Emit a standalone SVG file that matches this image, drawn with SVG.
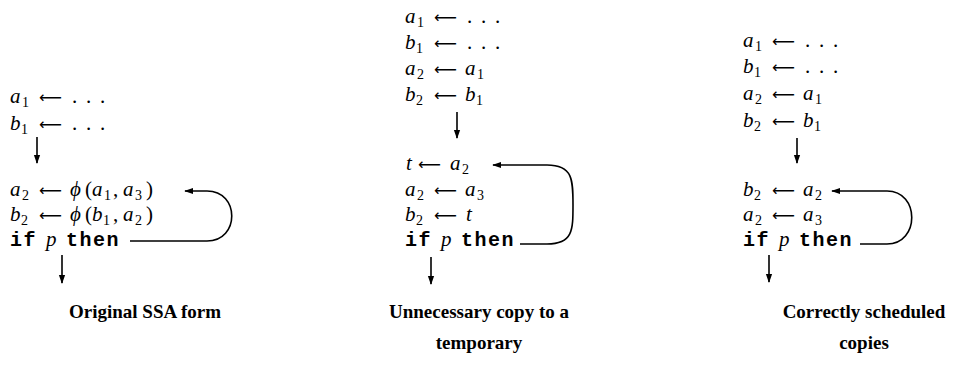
<svg xmlns="http://www.w3.org/2000/svg" width="962" height="378" viewBox="0 0 962 378">
<defs>
<marker id="ah" viewBox="0 0 10 10" refX="9" refY="5" markerWidth="9" markerHeight="9" markerUnits="userSpaceOnUse" orient="auto">
<path d="M0,1.5 L10,5 L0,8.5 Z" fill="#000"/>
</marker>
<style>
.m{font-family:"Liberation Serif",serif;font-size:21px;fill:#000}
.v{font-style:italic}
.s{font-size:14px;font-style:normal}
.ar{font-family:"DejaVu Sans",sans-serif;font-size:16px}
.tt{font-family:"Liberation Mono",monospace;font-weight:bold;font-size:20px;letter-spacing:1.5px}
.cap{font-family:"Liberation Serif",serif;font-weight:bold;font-size:19px;fill:#000}
.c{fill:none;stroke:#000;stroke-width:1.6}
</style>
</defs>
<rect width="962" height="378" fill="#fff"/>

<g id="panel1">
<text class="m" y="103"><tspan class="v" x="10">a</tspan><tspan class="s" x="22" dy="4">1</tspan><tspan class="ar" x="39" dy="-4">⟵</tspan><tspan x="72">.</tspan><tspan x="86">.</tspan><tspan x="100">.</tspan></text>
<text class="m" y="130"><tspan class="v" x="10">b</tspan><tspan class="s" x="21" dy="4">1</tspan><tspan class="ar" x="39" dy="-4">⟵</tspan><tspan x="72">.</tspan><tspan x="86">.</tspan><tspan x="100">.</tspan></text>
<text class="m" y="196"><tspan class="v" x="10">a</tspan><tspan class="s" x="22" dy="4">2</tspan><tspan class="ar" x="39" dy="-4">⟵</tspan><tspan class="v" x="70">ϕ</tspan><tspan x="85">(</tspan><tspan class="v" x="92">a</tspan><tspan class="s" x="104" dy="4">1</tspan><tspan dy="-4" x="113">,</tspan><tspan class="v" x="123">a</tspan><tspan class="s" x="135" dy="4">3</tspan><tspan dy="-4" x="146">)</tspan></text>
<text class="m" y="221"><tspan class="v" x="10">b</tspan><tspan class="s" x="21" dy="4">2</tspan><tspan class="ar" x="39" dy="-4">⟵</tspan><tspan class="v" x="70">ϕ</tspan><tspan x="85">(</tspan><tspan class="v" x="92">b</tspan><tspan class="s" x="103" dy="4">1</tspan><tspan dy="-4" x="113">,</tspan><tspan class="v" x="123">a</tspan><tspan class="s" x="135" dy="4">2</tspan><tspan dy="-4" x="146">)</tspan></text>
<text class="m" y="246"><tspan class="tt" x="10">if</tspan><tspan class="v" x="46">p</tspan><tspan class="tt" x="66">then</tspan></text>
</g>

<g id="panel2">
<text class="m" y="23"><tspan class="v" x="405">a</tspan><tspan class="s" x="417" dy="4">1</tspan><tspan class="ar" x="434" dy="-4">⟵</tspan><tspan x="467">.</tspan><tspan x="481">.</tspan><tspan x="495">.</tspan></text>
<text class="m" y="49"><tspan class="v" x="405">b</tspan><tspan class="s" x="416" dy="4">1</tspan><tspan class="ar" x="434" dy="-4">⟵</tspan><tspan x="467">.</tspan><tspan x="481">.</tspan><tspan x="495">.</tspan></text>
<text class="m" y="75"><tspan class="v" x="405">a</tspan><tspan class="s" x="417" dy="4">2</tspan><tspan class="ar" x="434" dy="-4">⟵</tspan><tspan class="v" x="465">a</tspan><tspan class="s" x="477" dy="4">1</tspan></text>
<text class="m" y="101"><tspan class="v" x="405">b</tspan><tspan class="s" x="416" dy="4">2</tspan><tspan class="ar" x="434" dy="-4">⟵</tspan><tspan class="v" x="465">b</tspan><tspan class="s" x="476" dy="4">1</tspan></text>
<text class="m" y="170"><tspan class="v" x="406">t</tspan><tspan class="ar" x="418">⟵</tspan><tspan class="v" x="450">a</tspan><tspan class="s" x="462" dy="4">2</tspan></text>
<text class="m" y="196"><tspan class="v" x="405">a</tspan><tspan class="s" x="417" dy="4">2</tspan><tspan class="ar" x="434" dy="-4">⟵</tspan><tspan class="v" x="465">a</tspan><tspan class="s" x="477" dy="4">3</tspan></text>
<text class="m" y="221"><tspan class="v" x="405">b</tspan><tspan class="s" x="416" dy="4">2</tspan><tspan class="ar" x="434" dy="-4">⟵</tspan><tspan class="v" x="466">t</tspan></text>
<text class="m" y="246"><tspan class="tt" x="405">if</tspan><tspan class="v" x="441">p</tspan><tspan class="tt" x="461">then</tspan></text>
</g>

<g id="panel3">
<text class="m" y="47"><tspan class="v" x="743">a</tspan><tspan class="s" x="755" dy="4">1</tspan><tspan class="ar" x="772" dy="-4">⟵</tspan><tspan x="805">.</tspan><tspan x="819">.</tspan><tspan x="833">.</tspan></text>
<text class="m" y="73"><tspan class="v" x="743">b</tspan><tspan class="s" x="754" dy="4">1</tspan><tspan class="ar" x="772" dy="-4">⟵</tspan><tspan x="805">.</tspan><tspan x="819">.</tspan><tspan x="833">.</tspan></text>
<text class="m" y="100"><tspan class="v" x="743">a</tspan><tspan class="s" x="755" dy="4">2</tspan><tspan class="ar" x="772" dy="-4">⟵</tspan><tspan class="v" x="803">a</tspan><tspan class="s" x="815" dy="4">1</tspan></text>
<text class="m" y="127"><tspan class="v" x="743">b</tspan><tspan class="s" x="754" dy="4">2</tspan><tspan class="ar" x="772" dy="-4">⟵</tspan><tspan class="v" x="803">b</tspan><tspan class="s" x="814" dy="4">1</tspan></text>
<text class="m" y="196"><tspan class="v" x="743">b</tspan><tspan class="s" x="754" dy="4">2</tspan><tspan class="ar" x="772" dy="-4">⟵</tspan><tspan class="v" x="803">a</tspan><tspan class="s" x="815" dy="4">2</tspan></text>
<text class="m" y="221"><tspan class="v" x="743">a</tspan><tspan class="s" x="755" dy="4">2</tspan><tspan class="ar" x="772" dy="-4">⟵</tspan><tspan class="v" x="803">a</tspan><tspan class="s" x="815" dy="4">3</tspan></text>
<text class="m" y="246"><tspan class="tt" x="743">if</tspan><tspan class="v" x="779">p</tspan><tspan class="tt" x="799">then</tspan></text>
</g>

<g id="connectors">
<path class="c" d="M37,137 V163" marker-end="url(#ah)"/>
<path class="c" d="M62,255 V283" marker-end="url(#ah)"/>
<path class="c" d="M130,241 H207 C240,241 240,191 207,191 H185" marker-end="url(#ah)"/>
<path class="c" d="M457,112 V138" marker-end="url(#ah)"/>
<path class="c" d="M431,257 V284" marker-end="url(#ah)"/>
<path class="c" d="M520,244 H547 C573,244 573,230 573,205 C573,180 573,165 547,165 H493" marker-end="url(#ah)"/>
<path class="c" d="M797,138 V163" marker-end="url(#ah)"/>
<path class="c" d="M769,255 V282" marker-end="url(#ah)"/>
<path class="c" d="M860,244 H887 C920,244 920,191 887,191 H832" marker-end="url(#ah)"/>
</g>

<g id="captions">
<text class="cap" x="145" y="318" text-anchor="middle">Original SSA form</text>
<text class="cap" x="479" y="318" text-anchor="middle">Unnecessary copy to a</text>
<text class="cap" x="479" y="349" text-anchor="middle">temporary</text>
<text class="cap" x="864" y="318" text-anchor="middle">Correctly scheduled</text>
<text class="cap" x="864" y="349" text-anchor="middle">copies</text>
</g>
</svg>
